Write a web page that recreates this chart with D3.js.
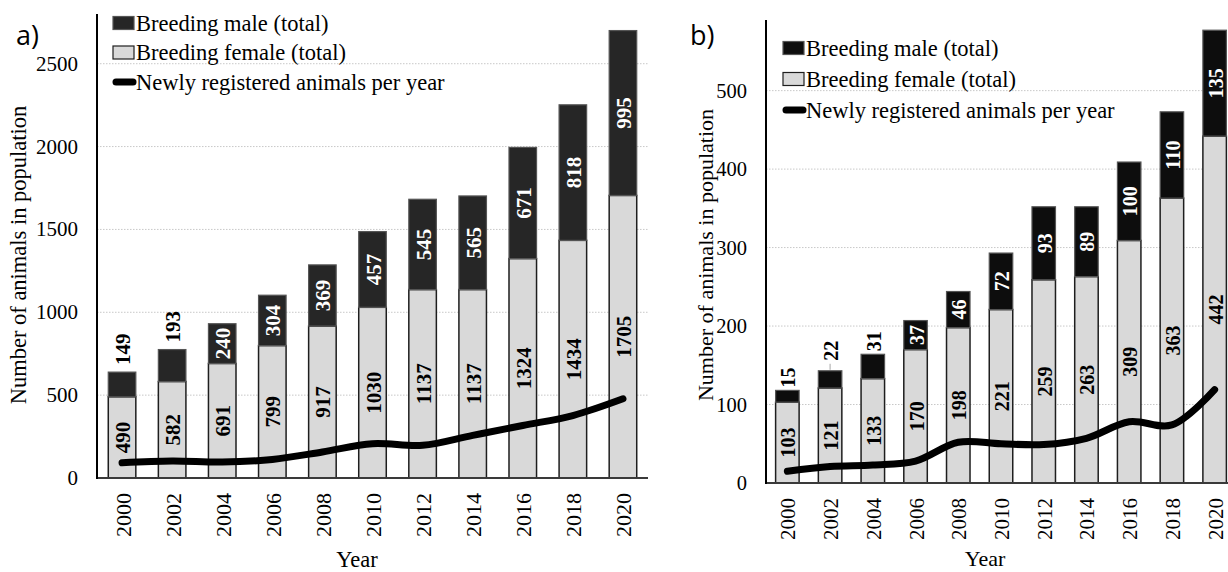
<!DOCTYPE html>
<html>
<head>
<meta charset="utf-8">
<script src="https://cdn.jsdelivr.net/npm/d3@7"></script>
<style>
  html, body { margin: 0; padding: 0; background: #ffffff; }
  svg { display: block; }
  text { font-family: "Liberation Serif", "Times New Roman", serif; fill: #000; }
</style>
</head>
<body>
<svg id="chart" width="1228" height="572"></svg>
<script>
// Census years shared by both panels
const years = [2000, 2002, 2004, 2006, 2008, 2010, 2012, 2014, 2016, 2018, 2020];

// Panel a) — whole population
const femaleA = [490, 582, 691, 799, 917, 1030, 1137, 1137, 1324, 1434, 1705];
const maleA   = [149, 193, 240, 304, 369, 457, 545, 565, 671, 818, 995];
const newA    = [92, 102, 96, 112, 157, 207, 197, 257, 317, 377, 478];
const ticksA  = [0, 500, 1000, 1500, 2000, 2500];

// Panel b) — sub-population
const femaleB = [103, 121, 133, 170, 198, 221, 259, 263, 309, 363, 442];
const maleB   = [15, 22, 31, 37, 46, 72, 93, 89, 100, 110, 135];
const newB    = [15, 21, 23, 28, 52, 50, 49, 57, 78, 74, 119];
const ticksB  = [0, 100, 200, 300, 400, 500];

const legendLabels = ["Breeding male (total)", "Breeding female (total)", "Newly registered animals per year"];
const axisTitleY = "Number of animals in population";
const axisTitleX = "Year";

const svg = d3.select("#chart");

function drawPanel(p) {
  const g = svg.append("g");
  const rows = years.map((yr, i) => ({ year: yr, female: p.female[i], male: p.male[i], added: p.added[i] }));

  const x = d3.scaleBand().domain(years).range([p.left, p.right]).paddingInner(0.45).paddingOuter(0.225);
  const y = d3.scaleLinear().domain([0, p.max]).range([p.bottom, p.top]);

  // dotted horizontal gridlines
  g.append("g").selectAll("line").data(p.ticks.filter(t => t > 0)).join("line")
    .attr("x1", p.left).attr("x2", p.right)
    .attr("y1", d => y(d)).attr("y2", d => y(d))
    .attr("stroke", "#c8c8c8").attr("stroke-width", 1).attr("stroke-dasharray", "1.5,1.5");

  // y tick labels
  g.append("g").selectAll("text").data(p.ticks).join("text")
    .attr("x", p.left - p.tickGap).attr("y", d => y(d))
    .attr("text-anchor", "end").attr("dominant-baseline", "central")
    .style("font-size", p.tickSize + "px")
    .text(d => d);

  // stacked bars: female at the base, male on top
  const bars = g.append("g").selectAll("g").data(rows).join("g");
  bars.append("rect")
    .attr("x", d => x(d.year)).attr("width", x.bandwidth())
    .attr("y", d => y(d.female)).attr("height", d => y(0) - y(d.female))
    .attr("fill", "#d9d9d9").attr("stroke", "#1e1e1e").attr("stroke-width", 1.5);
  bars.append("rect")
    .attr("x", d => x(d.year)).attr("width", x.bandwidth())
    .attr("y", d => y(d.female + d.male)).attr("height", d => y(d.female) - y(d.female + d.male))
    .attr("fill", p.maleFill).attr("stroke", "#555555").attr("stroke-width", 1.2);

  // axes lines
  g.append("line").attr("x1", p.left).attr("x2", p.right).attr("y1", y(0)).attr("y2", y(0))
    .attr("stroke", "#3a3a3a").attr("stroke-width", 2);
  g.append("line").attr("x1", p.left).attr("x2", p.left).attr("y1", p.top).attr("y2", y(0) + 1)
    .attr("stroke", "#000").attr("stroke-width", 2);

  // value labels, rotated; small male segments get their label above the bar
  const lbl = g.append("g").style("font-size", p.valueSize + "px").style("font-weight", "bold");
  rows.forEach((d, i) => {
    const cx = x(d.year) + x.bandwidth() / 2;
    const yf0 = y(0), yf1 = y(d.female), ym1 = y(d.female + d.male);
    lbl.append("text")
      .attr("transform", `translate(${cx + 1},${(yf0 + yf1) / 2}) rotate(-90)`)
      .attr("text-anchor", "middle").attr("dominant-baseline", "central")
      .text(d.female);
    const t = lbl.append("text").text(d.male).attr("dominant-baseline", "central");
    const len = t.node().getComputedTextLength();
    if (yf1 - ym1 < len + 6) {
      const lift = (p.leaderAt === i) ? p.leaderLen : 0;
      t.attr("transform", `translate(${cx + 1},${ym1 - p.outGap - lift}) rotate(-90)`)
        .attr("text-anchor", "start").style("fill", "#000");
      if (lift) {
        lbl.append("line").attr("x1", cx).attr("x2", cx)
          .attr("y1", ym1 - 1).attr("y2", ym1 - lift)
          .attr("stroke", "#a6a6a6").attr("stroke-width", 1);
      }
    } else {
      t.attr("transform", `translate(${cx + 1},${(yf1 + ym1) / 2}) rotate(-90)`)
        .attr("text-anchor", "middle").style("fill", "#fff");
    }
  });

  // smoothed line of newly registered animals
  const line = d3.line()
    .x(d => x(d.year) + x.bandwidth() / 2)
    .y(d => y(d.added))
    .curve(d3.curveCatmullRom.alpha(0.5));
  g.append("path").datum(rows).attr("d", line)
    .attr("fill", "none").attr("stroke", "#000").attr("stroke-width", 7)
    .attr("stroke-linecap", "round").attr("stroke-linejoin", "round");

  // x tick labels, rotated
  g.append("g").selectAll("text").data(years).join("text")
    .attr("transform", d => `translate(${x(d) + x.bandwidth() / 2 + 1},${y(0) + p.xTickGap}) rotate(-90)`)
    .attr("text-anchor", "end").attr("dominant-baseline", "central")
    .style("font-size", p.xTickSize + "px")
    .text(d => d);

  // axis titles
  g.append("text").attr("x", p.xTitleX).attr("y", p.xTitleY)
    .attr("text-anchor", "middle").style("font-size", p.titleSize + "px").text(axisTitleX);
  g.append("text")
    .attr("transform", `translate(${p.yTitleX},${p.yTitleY}) rotate(-90)`)
    .attr("text-anchor", "middle").attr("dominant-baseline", "central")
    .style("font-size", p.titleSize + "px").text(axisTitleY);

  // panel letter
  g.append("text").attr("x", p.letterX).attr("y", p.letterY)
    .style("font-family", "'Open Sans', 'Noto Sans', sans-serif").style("font-size", "27px")
    .text(p.letter);

  // legend
  const lg = g.append("g").style("font-size", p.legendSize + "px");
  legendLabels.forEach((name, i) => {
    const ly = p.legendY + i * p.legendStep;
    if (i < 2) {
      lg.append("rect").attr("x", p.legendX).attr("y", ly - 6.5).attr("width", 21).attr("height", 13)
        .attr("fill", i === 0 ? p.maleFill : "#d9d9d9")
        .attr("stroke", i === 0 ? "#555" : "#1e1e1e").attr("stroke-width", 1.2);
    } else {
      lg.append("line").attr("x1", p.legendX + 3).attr("x2", p.legendX + 20).attr("y1", ly).attr("y2", ly)
        .attr("stroke", "#000").attr("stroke-width", 7).attr("stroke-linecap", "round");
    }
    lg.append("text").attr("x", p.legendX + 23).attr("y", ly).attr("dominant-baseline", "central").text(name);
  });
}

drawPanel({
  letter: "a)", letterX: 16, letterY: 45,
  female: femaleA, male: maleA, added: newA, ticks: ticksA, max: 2800,
  left: 97, right: 648, top: 14, bottom: 478,
  maleFill: "#262626",
  tickSize: 21, tickGap: 19, valueSize: 21, outGap: 7, leaderAt: -1, leaderLen: 0,
  xTickSize: 22, xTickGap: 15, titleSize: 22.5,
  xTitleX: 357, xTitleY: 567, yTitleX: 18, yTitleY: 255,
  legendX: 113, legendY: 23, legendStep: 29.5, legendSize: 22.5
});

drawPanel({
  letter: "b)", letterX: 690, letterY: 45,
  female: femaleB, male: maleB, added: newB, ticks: ticksB, max: 590,
  left: 766, right: 1236, top: 20, bottom: 483,
  maleFill: "#0d0d0d",
  tickSize: 20.5, tickGap: 19, valueSize: 20, outGap: 3, leaderAt: 1, leaderLen: 7,
  xTickSize: 21, xTickGap: 15, titleSize: 22,
  xTitleX: 985, xTitleY: 566, yTitleX: 705, yTitleY: 255,
  legendX: 783, legendY: 48, legendStep: 31, legendSize: 22.5
});
</script>
</body>
</html>
